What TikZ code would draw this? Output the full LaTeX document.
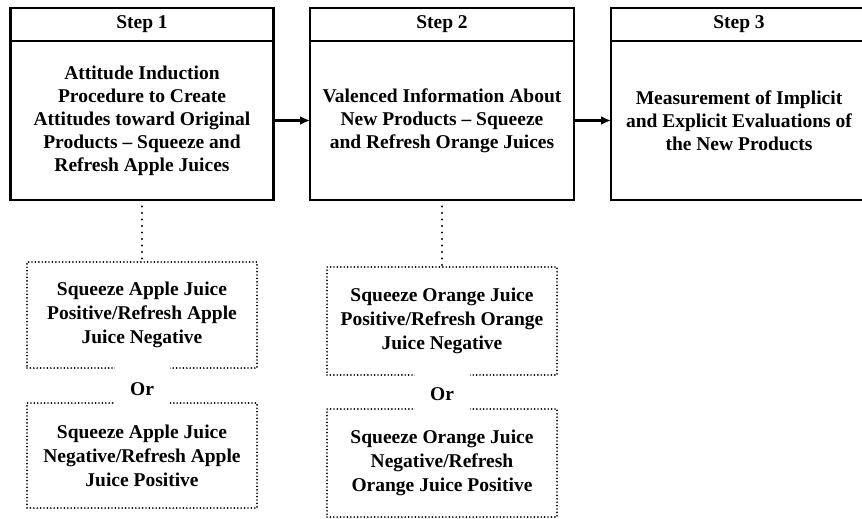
\documentclass[tikz,border=0pt]{standalone}
\usepackage{fontspec}
\setmainfont{Liberation Serif}
\usetikzlibrary{positioning,arrows.meta}

\begin{document}
\begin{tikzpicture}[x=1pt, y=-1pt, every node/.style={align=center, inner sep=0pt, outer sep=0pt, font=\bfseries\fontsize{19.5}{23}\selectfont},
	stephead/.style={draw, line width=2.3pt, minimum height=33pt},
	stepbody/.style={draw, line width=2.3pt, minimum height=159pt},
	optbox/.style={draw, line width=1.9pt, line cap=round, dash pattern=on 0pt off 3.4pt, minimum width=230pt, font=\bfseries\fontsize{19.5}{24}\selectfont},
	ortext/.style={fill=white, minimum width=55pt, minimum height=48pt},
	arr/.style={-{Latex[length=10pt,width=9pt]}, line width=2.3pt},
	link/.style={line width=2.4pt, line cap=round, dash pattern=on 0pt off 6.5pt}]
					
					\useasboundingbox (0,0) rectangle (862,519);
					
					% Steps
					\node[stephead, minimum width=263pt] (head1) at (142,24.5) {Step 1};
					\node[stepbody, minimum width=263pt, below=0pt of head1] (body1) {Attitude Induction\\Procedure to Create\\Attitudes toward Original\\Products -- Squeeze and\\Refresh Apple Juices};
					\node[stephead, minimum width=264pt] (head2) at (442,24.5) {Step 2};
					\node[stepbody, minimum width=264pt, below=0pt of head2] (body2) {Valenced Information About\\New Products -- Squeeze\\and Refresh Orange Juices};
					\node[stephead, minimum width=256pt] (head3) at (739,24.5) {Step 3};
					\node[stepbody, minimum width=256pt, below=0pt of head3] (body3) {Measurement of Implicit\\and Explicit Evaluations of\\the New Products};
					
					
					% Options for step 1
					\node[optbox, minimum height=106pt] (opt1a) at (142,315) {Squeeze Apple Juice\\Positive/Refresh Apple\\Juice Negative};
					\node[optbox, minimum height=105pt] (opt1b) at (142,455.5) {Squeeze Apple Juice\\Negative/Refresh Apple\\Juice Positive};
					\node[ortext] (or1) at (142,389) {Or};
					
					
					% Options for step 2
					\node[optbox, minimum height=108pt] (opt2a) at (442,321) {Squeeze Orange Juice\\Positive/Refresh Orange\\Juice Negative};
					\node[optbox, minimum height=108pt] (opt2b) at (442,463) {Squeeze Orange Juice\\Negative/Refresh\\Orange Juice Positive};
					\node[ortext] (or2) at (442,394) {Or};
					
					
					% Edges
					\draw[arr] (body1) -- (body2);
					\draw[arr] (body2) -- (body3);
					\draw[link] (body1) -- (opt1a);
					\draw[link] (body2) -- (opt2a);
					
			\end{tikzpicture}
\end{document}
